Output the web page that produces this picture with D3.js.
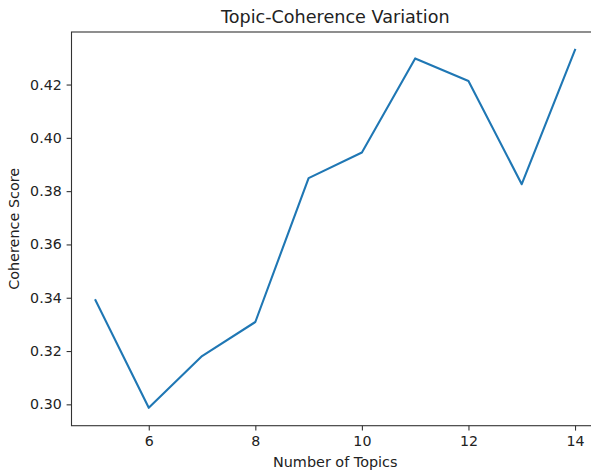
<!DOCTYPE html>
<html>
<head>
<meta charset="utf-8">
<script src="https://cdn.jsdelivr.net/npm/d3@7"></script>
<style>
  html, body { margin: 0; padding: 0; background: #fff; overflow: hidden; }
  svg { display: block; font-family: "DejaVu Sans", sans-serif; }
  .tick text { fill: #222; }
</style>
</head>
<body>
<div id="chart"></div>
<script>
// data
const topics = [5, 6, 7, 8, 9, 10, 11, 12, 13, 14];
const coherence = [0.3391, 0.2987, 0.3181, 0.3309, 0.3849, 0.3945, 0.4298, 0.4213, 0.3826, 0.4330];
const xTicks = [6, 8, 10, 12, 14];
const yTicks = [0.30, 0.32, 0.34, 0.36, 0.38, 0.40, 0.42];

const width = 591;
const height = 471;
// axes box (right side runs past the window, like the picture)
const margin = { top: 32, left: 71.5, bottom: 425.7, right: 599 };

const svg = d3.select("#chart")
  .append("svg")
  .attr("width", width)
  .attr("height", height);

// matplotlib style 5% padding
const xPad = (d3.max(topics) - d3.min(topics)) * 0.05;
const yPad = (d3.max(coherence) - d3.min(coherence)) * 0.05;

const x = d3.scaleLinear()
  .domain([d3.min(topics) - xPad, d3.max(topics) + xPad])
  .range([margin.left, margin.right]);

const y = d3.scaleLinear()
  .domain([d3.min(coherence) - yPad, d3.max(coherence) + yPad])
  .range([margin.bottom, margin.top]);

// spines
svg.append("rect")
  .attr("x", margin.left)
  .attr("y", margin.top)
  .attr("width", margin.right - margin.left)
  .attr("height", margin.bottom - margin.top)
  .style("fill", "none")
  .style("stroke", "#333")
  .style("stroke-width", 1.1);

const xAxis = svg.append("g")
  .attr("transform", `translate(0,${margin.bottom})`)
  .call(d3.axisBottom(x).tickValues(xTicks).tickFormat(d3.format("d")).tickSize(4.9).tickPadding(4.9));

const yAxis = svg.append("g")
  .attr("transform", `translate(${margin.left},0)`)
  .call(d3.axisLeft(y).tickValues(yTicks).tickFormat(d3.format(".2f")).tickSize(4.9).tickPadding(4.9));

[xAxis, yAxis].forEach(a => {
  a.select(".domain").remove();
  a.selectAll(".tick line").style("stroke", "#333").style("stroke-width", 1.1);
  a.selectAll(".tick text")
    .style("font-family", '"DejaVu Sans", sans-serif')
    .style("font-size", "14.2px");
});

// the line
const line = d3.line()
  .x((d, i) => x(topics[i]))
  .y(d => y(d));

svg.append("path")
  .datum(coherence)
  .attr("d", line)
  .style("fill", "none")
  .style("stroke", "#1f77b4")
  .style("stroke-width", 2.1)
  .style("stroke-linejoin", "round")
  .style("stroke-linecap", "square");

// title + labels
svg.append("text")
  .attr("x", (margin.left + margin.right) / 2)
  .attr("y", 23)
  .attr("text-anchor", "middle")
  .style("font-size", "17.6px")
  .style("fill", "#222")
  .text("Topic-Coherence Variation");

svg.append("text")
  .attr("x", (margin.left + margin.right) / 2)
  .attr("y", 467)
  .attr("text-anchor", "middle")
  .style("font-size", "14.4px")
  .style("fill", "#222")
  .text("Number of Topics");

svg.append("text")
  .attr("transform", `translate(19,${(margin.top + margin.bottom) / 2}) rotate(-90)`)
  .attr("text-anchor", "middle")
  .style("font-size", "14.4px")
  .style("fill", "#222")
  .text("Coherence Score");
</script>
</body>
</html>
